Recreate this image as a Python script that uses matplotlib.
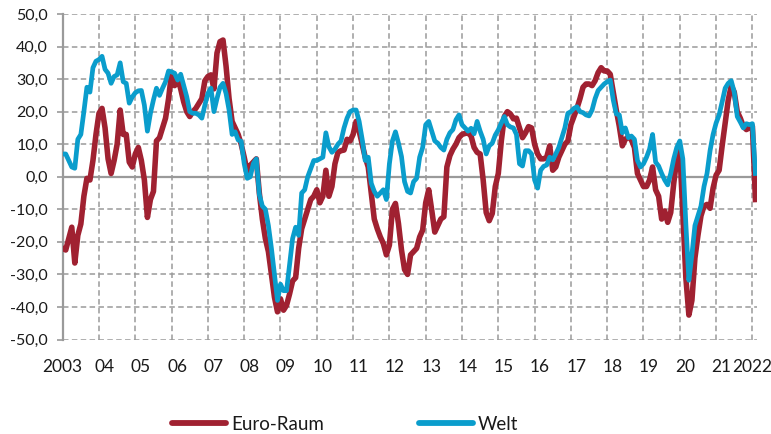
import matplotlib
matplotlib.use("Agg")
import matplotlib.pyplot as plt
import numpy as np
from matplotlib.transforms import ScaledTranslation

plt.rcParams['font.family'] = ['Lato', 'DejaVu Sans']

# ---- data (monthly, Jan 2003 - Feb 2022) ----
euro = [
    -22, -22.5, -19, -15.5, -26.5, -18, -14.5, -6, -0.5, -1, 5, 13,          # 2003
    19.5, 21, 15, 5.5, 1, 5, 10, 20.5, 13, 13, 4.5, 3,                       # 2004
    7, 9, 5, -1, -12.5, -7, -4.5, 11, 12, 15, 18, 24,                        # 2005
    32, 28, 30.5, 27, 23, 20, 18.5, 20, 21, 22.5, 24, 29.5,                  # 2006
    30.8, 31.3, 27, 38, 41.5, 42, 34, 24, 17, 15, 13, 10,                    # 2007
    6, 1.5, 3.5, 4.5, 5.5, -5, -13, -19, -23, -30, -37, -41.5,               # 2008
    -37.5, -41, -39.5, -36, -32, -31, -22, -16, -13, -10, -7, -6,            # 2009
    -4, -8, -6, 2, -6, -3, 4, 7.5, 8, 8.2, 11.5, 11,                         # 2010
    13, 17, 14, 10, 6, 3, -5, -13, -16, -18.5, -20.5, -24,                   # 2011
    -21, -10, -8.2, -14.4, -22.5, -28.5, -30, -24, -23, -22, -18.5, -16.4,   # 2012
    -8, -4, -10.3, -17, -15, -13, -12.3, 3, 6.5, 8.5, 10, 12,                # 2013
    13, 13.3, 13.5, 12.5, 9, 7.5, 7, -1, -11, -13.5, -11.3, -3,              # 2014
    1, 11, 18.5, 20, 19.3, 17.8, 18, 15, 12, 13.5, 15.4, 15,                 # 2015
    10, 7, 5.5, 5.5, 6, 9.5, 2, 3, 6, 8, 10, 11,                             # 2016
    16, 18.5, 21, 24, 27.5, 28.5, 28.5, 28, 29.5, 32, 33.5, 32.5,            # 2017
    32.5, 31.5, 26, 20.5, 15.5, 9.5, 11.5, 12.3, 11.3, 9, 1, -1,             # 2018
    -3, -3, -1, 3, -4, -6, -13, -10.5, -14, -11, -2, 5.5,                    # 2019
    8, -11, -31, -42.5, -38, -25, -18, -12, -9, -8.5, -9.7, -3.5,            # 2020
    0.5, 2, 9.5, 16.5, 23.5, 28, 26, 20, 18, 15.5, 14.5, 15,                 # 2021
    15.5, -7,                                                                # 2022
]
welt = [
    7, 7, 5, 3, 2.6, 11.5, 13, 20, 27.5, 26, 33.5, 35.5,                     # 2003
    36, 37, 33, 31.8, 28.7, 30.8, 31.3, 35, 29.2, 28.7, 22.6, 24.5,          # 2004
    25.8, 26.4, 26.5, 22, 14, 19.5, 23.6, 27.2, 25, 27.2, 29.2, 32.5,        # 2005
    32.2, 31.8, 29.7, 31.5, 28, 24.6, 20, 19.5, 19.5, 19, 18, 22,            # 2006
    25.6, 27.2, 20, 24, 27.5, 28.7, 25.6, 20.5, 13, 13.8, 11.3, 10.9,        # 2007
    4, -0.5, 0, 4, 5.5, -5.5, -9, -10, -15, -22, -30, -38,                   # 2008
    -33, -35, -35, -27, -19, -15.5, -18, -5, -4, 0, 2.5, 5,                  # 2009
    5, 5.5, 6, 13.5, 9.2, 7.5, 8.5, 10, 11, 15, 18, 20,                      # 2010
    20.5, 20.5, 17, 11.5, 5, 6, -2, -4.5, -6, -5, -4, -7,                    # 2011
    4, 11, 13.8, 10.3, 6.2, -1.5, -4.5, -5, -1.5, -0.5, 6, 9,                # 2012
    16, 17, 14, 11, 10.3, 9, 8.2, 11.5, 13.5, 14.5, 17.5, 19,                # 2013
    16, 15, 14, 14.9, 13.2, 17, 14, 11.5, 7, 9.5, 10.3, 12.8,                # 2014
    14.4, 16.5, 18.5, 16, 15.3, 15, 13, 4, 3.3, 8, 8, 7,                     # 2015
    -1, -3.5, 2, 3.2, 3.6, 6, 5.2, 7, 9, 12, 15, 19.5,                       # 2016
    20, 21, 21.5, 20, 19.7, 19, 18.7, 20.5, 24, 26.5, 27.5, 28.5,            # 2017
    29.2, 29.7, 23.6, 19.3, 19, 13.5, 15, 12, 12.5, 11.5, 5, 3,              # 2018
    4, 6, 8.5, 13, 4.5, 3.3, 1, -1, -2.5, 1, 5.5, 9,                         # 2019
    11, 5.5, -14.5, -31.8, -24, -15, -12, -9, -3, 1, 8, 13,                  # 2020
    16.5, 19, 23, 27.2, 28.7, 29.5, 26, 18.5, 16.8, 15, 16.3, 16,            # 2021
    16.3, 1,                                                                 # 2022
]
series_names = ['Euro-Raum', 'Welt']
start_year = 2003
year_ticks = list(range(2003, 2023))
year_labels = ['2003', '04', '05', '06', '07', '08', '09', '10', '11', '12',
               '13', '14', '15', '16', '17', '18', '19', '20', '21', '2022']
y_ticks = list(range(-50, 51, 10))
y_labels = [f"{v:.1f}".replace('.', ',') for v in y_ticks]

RED = '#A02131'
BLUE = '#0A9DCC'
GRID = '#9a9a9a'
TXT = '#1a1a1a'

W, H = 771, 434
fig = plt.figure(figsize=(W / 100, H / 100), dpi=100)
ax = fig.add_axes([62.7 / W, (H - 339.5) / H, (757 - 62.7) / W, (339.5 - 14) / H])

x = start_year + np.arange(len(euro)) / 12.0
l1, = ax.plot(x, euro, color=RED, lw=4.0, solid_joinstyle='round', zorder=3)
l2, = ax.plot(x, welt, color=BLUE, lw=3.4, solid_joinstyle='round', zorder=4)

ax.set_xlim(2003, 2003 + (757 - 62.7) / 36.3)
ax.set_ylim(-50, 50)

ax.set_xticks(year_ticks)
ax.set_xticklabels(year_labels)
ax.set_yticks(y_ticks)
ax.set_yticklabels(y_labels)

ax.grid(True, color=GRID, linestyle=(0, (3.6, 2.2)), linewidth=1.1, zorder=1)
ax.set_axisbelow(True)
ax.axhline(0, color=GRID, lw=1.6, zorder=2)

for s in ['top', 'right', 'bottom']:
    ax.spines[s].set_visible(False)
ax.spines['left'].set_color(GRID)
ax.spines['left'].set_linewidth(1.6)

ax.tick_params(axis='y', direction='out', length=4.5, width=1.2, color=GRID,
               labelsize=11.5, pad=6, labelcolor=TXT)
ax.tick_params(axis='x', length=0, pad=14, labelsize=12.5, labelcolor=TXT)

labels = ax.get_xticklabels()
for i, lbl in enumerate(labels):
    if 0 < i < len(labels) - 1:
        lbl.set_transform(lbl.get_transform() +
                          ScaledTranslation(5.5 / 100, 0, fig.dpi_scale_trans))

ly = 1 - 424 / H
for handle, name, lx in [(l1, series_names[0], 172 / W), (l2, series_names[1], 419 / W)]:
    leg = fig.legend([handle], [name], loc='center left', bbox_to_anchor=(lx, ly),
                     frameon=False, handlelength=2.9, handletextpad=0.25,
                     borderpad=0, borderaxespad=0, fontsize=13.5)
    for t in leg.get_texts():
        t.set_color(TXT)
    for ln in leg.get_lines():
        ln.set_linewidth(4.2)
        ln.set_solid_capstyle('round')

fig.savefig('out.png', dpi=100)
